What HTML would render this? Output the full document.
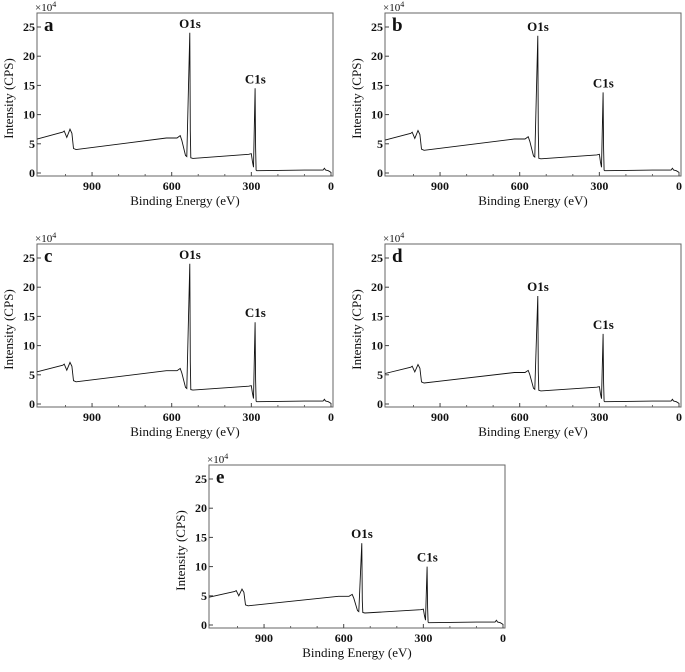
<!DOCTYPE html>
<html><head><meta charset="utf-8"><style>
body{margin:0;background:#fff}
svg text{font-family:"Liberation Serif",serif;fill:#111}
</style></head><body>
<svg id="c" width="685" height="667" font-family="Liberation Serif, serif"></svg>
<script>
const panelLabels=["a","b","c","d","e"];
const o1sHeights=[24,23.5,24,18.5,14];
const c1sHeights=[14.5,13.8,14,12,10];
const bgScale=[1,0.97,0.95,0.9,0.82];
const bgEnergy=[1107,1010,1005,995,983,976,970,960,620,580,568,562,548,543];
const bgValue=[5.8,7.0,7.2,6.1,7.5,6.8,4.2,4.0,6.0,6.0,6.4,5.6,3.0,2.8];
const midEnergy=[528,520,310,300,296,292];
const midValue=[2.6,2.5,3.2,3.3,2.0,1.0];
const tailEnergy=[282,280,200,100,30,25,20,10,0];
const tailValue=[0.5,0.4,0.45,0.5,0.5,0.8,0.5,0.4,0.1];
const xTicks=[900,600,300,0];
const yTicks=[0,5,10,15,20,25];
const origins=[[37,13],[385,13],[37,244],[385,244],[209,465]];
const W=296,H=163,NS="http://www.w3.org/2000/svg",svg=document.getElementById('c');
function mk(t,a,p){const e=document.createElementNS(NS,t);for(const k in a)e.setAttribute(k,a[k]);(p||svg).appendChild(e);return e;}
panelLabels.forEach((lab,i)=>{
  const [L,T]=origins[i];
  const xs=e=>L+W-2-(e)*0.2655;
  const ys=v=>T+160-v*5.84;
  const g=mk('g',{'font-family':'Liberation Serif, serif'});
  
  
  const fr=mk('rect',{x:L,y:T,width:W,height:H,fill:'none',stroke:'#666','stroke-width':1},g);
  
  xTicks.forEach(t=>{const x=xs(t);mk('line',{x1:x,x2:x,y1:T+H,y2:T+H-4,stroke:'#444'},g);
    const tx=mk('text',{x:x,y:T+H+14,'text-anchor':'middle','font-size':12,'font-weight':'bold'},g);tx.textContent=t;
    });
  [1000,800,700,500,400,200,100].forEach(t=>{const x=xs(t);if(x>L)mk('line',{x1:x,x2:x,y1:T+H,y2:T+H-2,stroke:'#666'},g);});
  yTicks.forEach(t=>{const y=ys(t);mk('line',{x1:L,x2:L+4,y1:y,y2:y,stroke:'#444'},g);
    const tx=mk('text',{x:L-2,y:y+4,'text-anchor':'end','font-size':12,'font-weight':'bold'},g);tx.textContent=t;
    });
  const ex=mk('text',{x:L-2,y:T-2,'font-size':11},g);ex.innerHTML='×10<tspan dy="-4" font-size="8">4</tspan>';
  
  const pl=mk('text',{x:L+7,y:T+18,'font-size':19,'font-weight':'bold'},g);pl.textContent=lab;
  
  const yt=mk('text',{x:0,y:0,'font-size':13,'text-anchor':'middle',transform:`translate(${L-24},${T+H/2+4}) rotate(-90)`},g);yt.textContent='Intensity (CPS)';
  
  const xt=mk('text',{x:L+W/2,y:T+H+29,'font-size':13,'text-anchor':'middle'},g);xt.textContent='Binding Energy (eV)';
  
  const s=bgScale[i];let pts=[];
  bgEnergy.forEach((e,k)=>pts.push([e,bgValue[k]*s]));
  pts.push([532,o1sHeights[i]],[530,o1sHeights[i]*0.3],[528,2.6*s]);
  midEnergy.forEach((e,k)=>pts.push([e,midValue[k]*s]));
  pts.push([286,c1sHeights[i]],[284,c1sHeights[i]*0.3]);
  tailEnergy.forEach((e,k)=>pts.push([e,tailValue[k]]));
  const d=pts.map((p,k)=>(k?'L':'M')+xs(p[0]).toFixed(1)+' '+ys(p[1]).toFixed(1)).join(' ');
  const ln=mk('path',{d:d,fill:'none',stroke:'#111','stroke-width':0.9},g);
  
  const o=mk('text',{x:xs(531),y:ys(o1sHeights[i])-5,'text-anchor':'middle','font-size':13,'font-weight':'bold'},g);o.textContent='O1s';
  
  const c=mk('text',{x:xs(285),y:ys(c1sHeights[i])-5,'text-anchor':'middle','font-size':13,'font-weight':'bold'},g);c.textContent='C1s';
  
});
</script>
</body></html>
